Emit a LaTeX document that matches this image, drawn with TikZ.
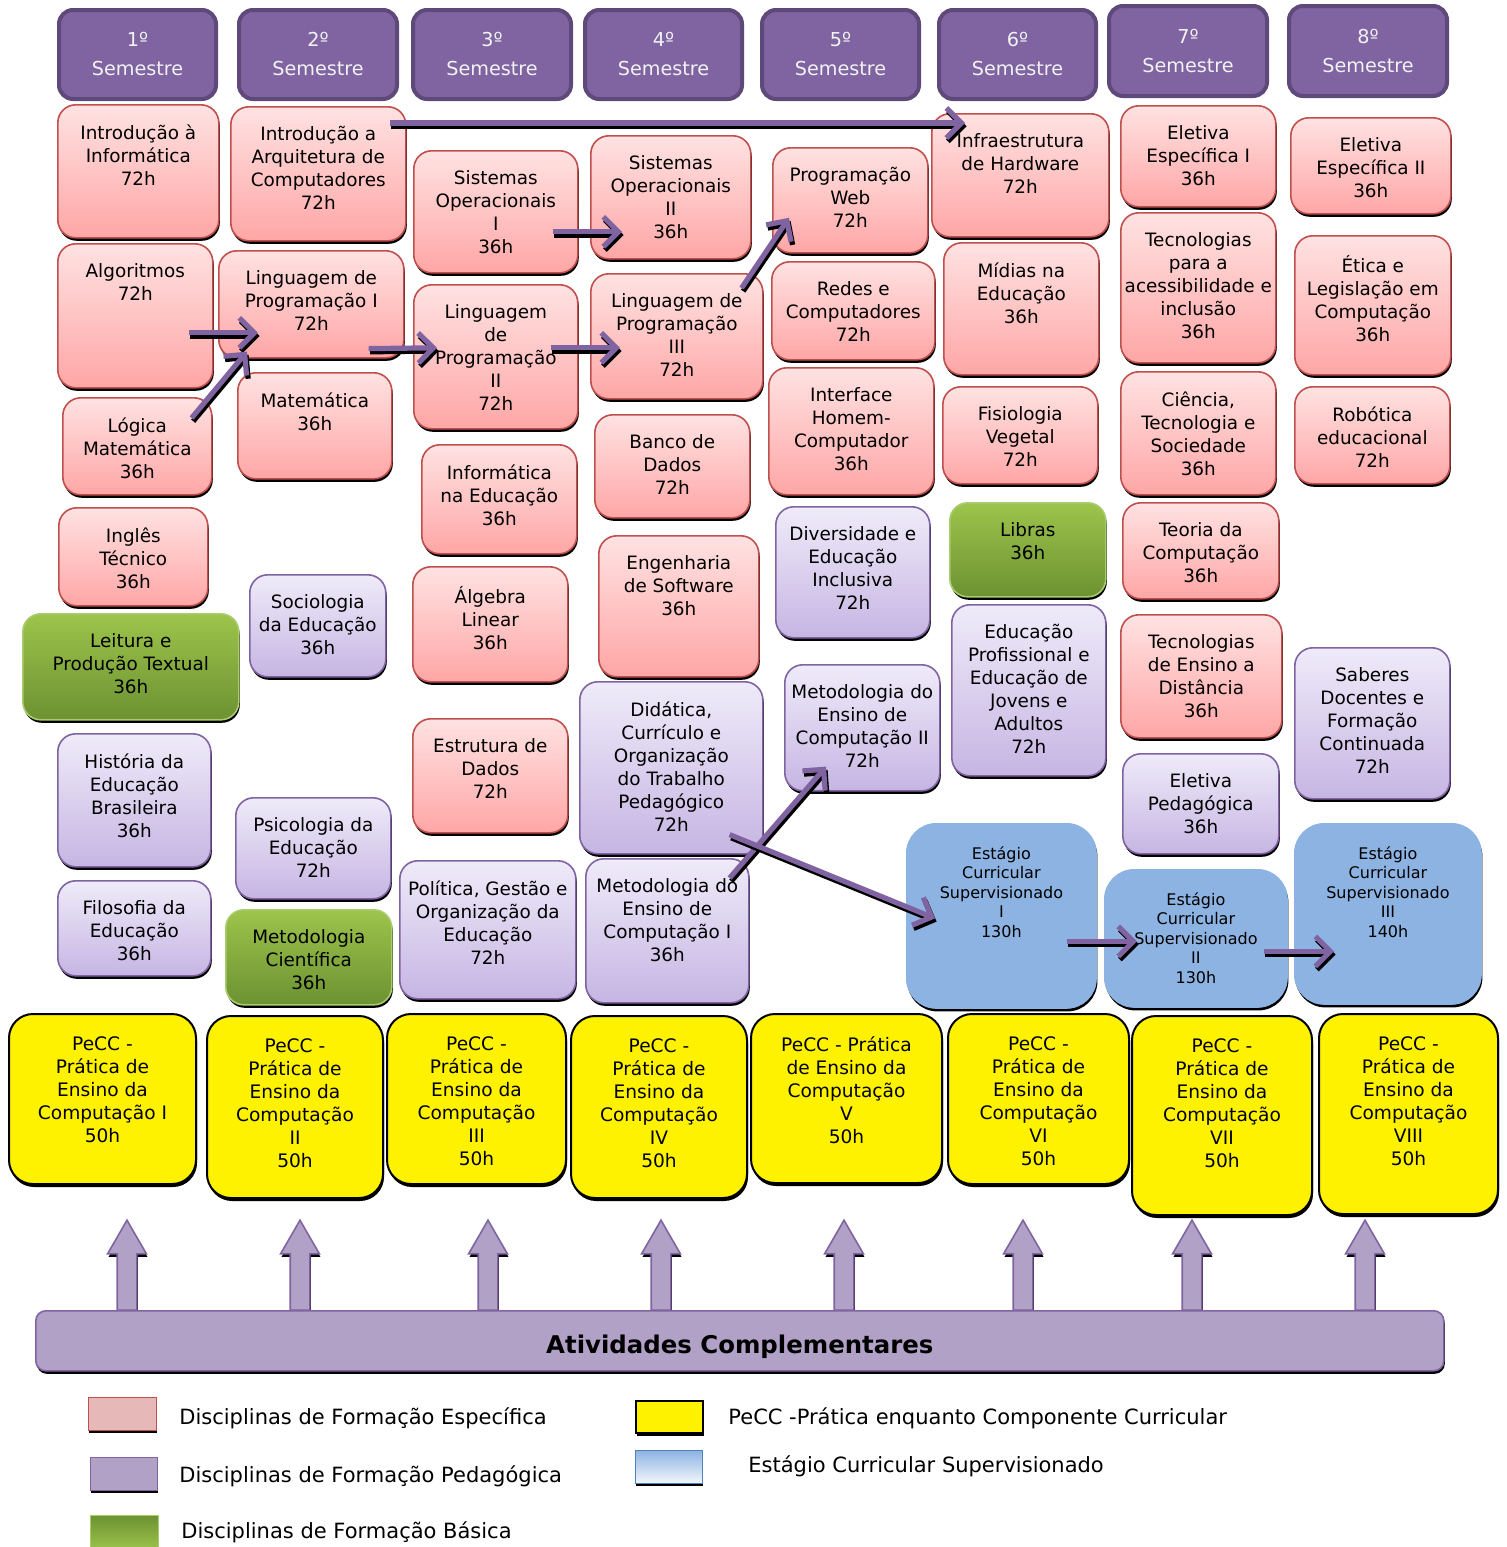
\documentclass[tikz,border=0pt]{standalone}
\usepackage{fontspec}
\setmainfont{DejaVu Sans}
\usepackage{tikz}
\usetikzlibrary{arrows}
\usetikzlibrary{arrows.meta}
\usetikzlibrary{calc}
\usetikzlibrary{shadows}
\usetikzlibrary{shapes.arrows}

\definecolor{semFill}{HTML}{8064A2}
\definecolor{semLine}{HTML}{5F497A}
\definecolor{redTop}{HTML}{FFE2E2}
\definecolor{redBot}{HTML}{FFA6A6}
\definecolor{redLine}{HTML}{C0504D}
\definecolor{lavTop}{HTML}{EFEBF9}
\definecolor{lavBot}{HTML}{C6B5E3}
\definecolor{grnTop}{HTML}{9DC44B}
\definecolor{grnBot}{HTML}{6C9232}
\definecolor{grnLine}{HTML}{A9CC6E}
\definecolor{estFill}{HTML}{8DB3E2}
\definecolor{barFill}{HTML}{B2A1C7}
\definecolor{legRed}{HTML}{E6B9B8}
\definecolor{legBlue}{HTML}{4F81BD}

\tikzset{
	boxshadow/.style={general shadow={fill=black, shadow xshift=0.5pt, shadow yshift=-1.5pt}},
	esp/.style={rounded corners=9pt, top color=redTop, bottom color=redBot, draw=redLine, line width=0.8pt, boxshadow},
	ped/.style={rounded corners=9pt, top color=lavTop, bottom color=lavBot, draw=semFill, line width=0.8pt, boxshadow},
	bas/.style={rounded corners=9pt, top color=grnTop, bottom color=grnBot, draw=grnLine, line width=0.8pt, boxshadow},
	estagio/.style={rounded corners=15pt, fill=estFill, draw=estFill, boxshadow},
	pecc/.style={rounded corners=12pt, fill=yellow, draw=black, line width=1pt, boxshadow},
	semBox/.style={rounded corners=7pt, fill=semFill, draw=semLine, line width=2pt},
	barBox/.style={rounded corners=5pt, fill=barFill, draw=semFill, line width=0.8pt, boxshadow},
	boxtext/.style={font=\fontsize{9.2}{11.5}\selectfont, align=center, inner sep=0pt, yshift=-10pt},
	esttext/.style={font=\fontsize{8}{9.75}\selectfont, align=center, inner sep=0pt, yshift=-11.6pt},
	pecctext/.style={font=\fontsize{9.3}{11.5}\selectfont, align=center, inner sep=0pt, yshift=-11.6pt},
	semtext/.style={font=\fontsize{9.6}{14.5}\selectfont, align=center, text=white!95!black},
	bartext/.style={font=\fontsize{12.2}{14}\selectfont\bfseries, inner sep=0pt, yshift=-3pt},
	legtext/.style={font=\fontsize{10.5}{12}\selectfont, anchor=west, inner sep=0pt},
	link/.style={-{Straight Barb[length=7.5pt, width=15pt]}, line width=2.6pt, draw=semFill},
	upArrow/.style={single arrow, draw=semFill, fill=barFill, line width=0.8pt,
		inner xsep=4.5pt, inner ysep=0pt, minimum height=45pt, single arrow head extend=4.8pt,
		single arrow tip angle=60, shape border rotate=90, anchor=tail, boxshadow}
}

% box with its text at the top
\newcommand{\drawBox}[6][boxtext]{
	\path let
		\p1 = (#3), \p2 = (#4)
		in
		node[#5, minimum width={\x2-\x1}, minimum height={\y1-\y2}, anchor=north west] (#2) at (\p1) {};
	\node[#1, anchor=north] (#2_T) at (#2.north) {#6};
}
% box with its text in the middle
\newcommand{\drawHead}[5]{
	\path let
		\p1 = (#2), \p2 = (#3)
		in
		node[#4, minimum width={\x2-\x1}, minimum height={\y1-\y2}, anchor=north west] (#1) at (\p1) {#5};
}
% thick arrow with a black shadow
\newcommand{\drawLink}[2]{
	\draw[link, draw=black, transform canvas={xshift=0.8pt, yshift=-1.6pt}] (#1) -- (#2);
	\draw[link] (#1) -- (#2);
}

\begin{document}
\begin{tikzpicture}[x=0.5pt, y=-0.5pt]
		\useasboundingbox (0,0) rectangle (1507,1547);

		% semesters
		\drawHead{S1}{57,8}{214,97}{semBox, semtext}{1º\\Semestre}
		\drawHead{S2}{237,8}{395,97}{semBox, semtext}{2º\\Semestre}
		\drawHead{S3}{411,8}{569,97}{semBox, semtext}{3º\\Semestre}
		\drawHead{S4}{583,8}{740,97}{semBox, semtext}{4º\\Semestre}
		\drawHead{S5}{760,8}{917,97}{semBox, semtext}{5º\\Semestre}
		\drawHead{S6}{937,8}{1094,97}{semBox, semtext}{6º\\Semestre}
		\drawHead{S7}{1107,4}{1265,94}{semBox, semtext}{7º\\Semestre}
		\drawHead{S8}{1287,4}{1445,94}{semBox, semtext}{8º\\Semestre}

		% 1st semester
		\drawBox{introInfo}{57,104}{218,237}{esp}{Introdução à\\Informática\\72h}
		\drawBox{algo}{57,243}{212,387}{esp}{Algoritmos\\72h}
		\drawBox{logica}{62,397}{211,494}{esp}{Lógica\\Matemática\\36h}
		\drawBox{ingles}{58,507}{207,605}{esp}{Inglês\\Técnico\\36h}
		\drawBox{leitura}{22,613}{238,719}{bas}{Leitura e\\Produção Textual\\36h}
		\drawBox{historia}{57,733}{210,866}{ped}{História da\\Educação\\Brasileira\\36h}
		\drawBox{filosofia}{57,880}{210,975}{ped}{Filosofia da\\Educação\\36h}

		% 2nd semester
		\drawBox{introArq}{230,106}{405,240}{esp}{Introdução a\\Arquitetura de\\Computadores\\72h}
		\drawBox{lp1}{218,250}{403,357}{esp}{Linguagem de\\Programação I\\72h}
		\drawBox{matematica}{237,372}{391,478}{esp}{Matemática\\36h}
		\drawBox{sociologia}{249,574}{385,676}{ped}{Sociologia\\da Educação\\36h}
		\drawBox{psicologia}{235,797}{390,898}{ped}{Psicologia da\\Educação\\72h}
		\drawBox{metCient}{225,909}{391,1004}{bas}{Metodologia\\Científica\\36h}

		% 3rd semester
		\drawBox{so1}{413,150}{577,272}{esp}{Sistemas\\Operacionais\\I\\36h}
		\drawBox{lp2}{413,284}{577,428}{esp}{Linguagem\\de\\Programação\\II\\72h}
		\drawBox{infoEdu}{421,444}{576,553}{esp}{Informática\\na Educação\\36h}
		\drawBox{algebra}{412,566}{567,681}{esp}{Álgebra\\Linear\\36h}
		\drawBox{estrutura}{412,718}{567,832}{esp}{Estrutura de\\Dados\\72h}
		\drawBox{politica}{399,860}{575,998}{ped}{Política, Gestão e\\Organização da\\Educação\\72h}

		% 4th semester
		\drawBox{so2}{590,135}{750,258}{esp}{Sistemas\\Operacionais\\II\\36h}
		\drawBox{lp3}{590,273}{762,398}{esp}{Linguagem de\\Programação\\III\\72h}
		\drawBox{banco}{594,414}{749,517}{esp}{Banco de\\Dados\\72h}
		\drawBox{engSoft}{598,535}{758,676}{esp}{Engenharia\\de Software\\36h}
		\drawBox{didatica}{579,681}{762,853}{ped}{Didática,\\Currículo e\\Organização\\do Trabalho\\Pedagógico\\72h}
		\drawBox{metEns1}{585,858}{748,1002}{ped}{Metodologia do\\Ensino de\\Computação I\\36h}

		% 5th semester
		\drawBox{web}{772,147}{927,252}{esp}{Programação\\Web\\72h}
		\drawBox{redes}{771,261}{934,359}{esp}{Redes e\\Computadores\\72h}
		\drawBox{ihc}{768,367}{933,494}{esp}{Interface\\Homem-\\Computador\\36h}
		\drawBox{diversidade}{775,506}{929,637}{ped}{Diversidade e\\Educação\\Inclusiva\\72h}
		\drawBox{metEns2}{784,664}{939,790}{ped}{Metodologia do\\Ensino de\\Computação II\\72h}

		% 6th semester
		\drawBox{infra}{931,113}{1108,236}{esp}{Infraestrutura\\de Hardware\\72h}
		\drawBox{midias}{943,242}{1098,374}{esp}{Mídias na\\Educação\\36h}
		\drawBox{fisiologia}{942,386}{1097,483}{esp}{Fisiologia\\Vegetal\\72h}
		\drawBox{libras}{949,502}{1105,596}{bas}{Libras\\36h}
		\drawBox{eja}{951,604}{1105,775}{ped}{Educação\\Profissional e\\Educação de\\Jovens e\\Adultos\\72h}
		\drawBox[esttext]{est1}{906,823}{1096,1008}{estagio}{Estágio\\Curricular\\Supervisionado\\I\\130h}

		% 7th semester
		\drawBox{eletiva1}{1120,105}{1275,206}{esp}{Eletiva\\Específica I\\36h}
		\drawBox{acess}{1120,212}{1275,362}{esp}{Tecnologias\\para a\\acessibilidade e\\inclusão\\36h}
		\drawBox{cts}{1120,371}{1275,494}{esp}{Ciência,\\Tecnologia e\\Sociedade\\36h}
		\drawBox{teoria}{1122,502}{1278,598}{esp}{Teoria da\\Computação\\36h}
		\drawBox{ead}{1120,614}{1281,737}{esp}{Tecnologias\\de Ensino a\\Distância\\36h}
		\drawBox{eletivaPed}{1122,753}{1278,853}{ped}{Eletiva\\Pedagógica\\36h}
		\drawBox[esttext]{est2}{1104,869}{1287,1007}{estagio}{Estágio\\Curricular\\Supervisionado\\II\\130h}

		% 8th semester
		\drawBox{eletiva2}{1290,117}{1450,213}{esp}{Eletiva\\Específica II\\36h}
		\drawBox{etica}{1294,235}{1450,374}{esp}{Ética e\\Legislação em\\Computação\\36h}
		\drawBox{robotica}{1294,386}{1449,483}{esp}{Robótica\\educacional\\72h}
		\drawBox{saberes}{1294,647}{1449,798}{ped}{Saberes\\Docentes e\\Formação\\Continuada\\72h}
		\drawBox[esttext]{est3}{1294,823}{1481,1004}{estagio}{Estágio\\Curricular\\Supervisionado\\III\\140h}

		% PeCC
		\drawBox[pecctext]{pecc1}{8,1013}{195,1183}{pecc}{PeCC -\\Prática de\\Ensino da\\Computação I\\50h}
		\drawBox[pecctext]{pecc2}{206,1015}{382,1197}{pecc}{PeCC -\\Prática de\\Ensino da\\Computação\\II\\50h}
		\drawBox[pecctext]{pecc3}{386,1013}{565,1183}{pecc}{PeCC -\\Prática de\\Ensino da\\Computação\\III\\50h}
		\drawBox[pecctext]{pecc4}{570,1015}{746,1197}{pecc}{PeCC -\\Prática de\\Ensino da\\Computação\\IV\\50h}
		\drawBox[pecctext]{pecc5}{750,1013}{941,1182}{pecc}{PeCC - Prática\\de Ensino da\\Computação\\V\\50h}
		\drawBox[pecctext]{pecc6}{947,1013}{1128,1183}{pecc}{PeCC -\\Prática de\\Ensino da\\Computação\\VI\\50h}
		\drawBox[pecctext]{pecc7}{1131,1015}{1311,1214}{pecc}{PeCC -\\Prática de\\Ensino da\\Computação\\VII\\50h}
		\drawBox[pecctext]{pecc8}{1318,1013}{1497,1213}{pecc}{PeCC -\\Prática de\\Ensino da\\Computação\\VIII\\50h}

		% prerequisites
		\drawLink{[shift={(-17,17)}]introArq.north east}{[shift={(34,10)}]infra.north west}
		\drawLink{[shift={(-25,17)}]algo.east}{[shift={(40,28.5)}]lp1.west}
		\drawLink{[shift={(-21,21)}]logica.north east}{[shift={(29,-7)}]lp1.south west}
		\drawLink{[shift={(-36,-10)}]lp1.south east}{[shift={(24,-9)}]lp2.west}
		\drawLink{[shift={(-26,20)}]so1.east}{[shift={(32,34.5)}]so2.west}
		\drawLink{[shift={(-28,-9)}]lp2.east}{[shift={(30,11.5)}]lp3.west}
		\drawLink{[shift={(-22,15)}]lp3.north east}{[shift={(17,17.5)}]web.west}
		\drawLink{[shift={(-20,20)}]metEns1.north east}{[shift={(42,-25)}]metEns2.south west}
		\drawLink{[shift={(-34,-20)}]didatica.south east}{[shift={(29,2.5)}]est1.west}
		\drawLink{[shift={(-30,25.5)}]est1.east}{[shift={(33,3)}]est2.west}
		\drawLink{[shift={(-24,13)}]est2.east}{[shift={(40,37.5)}]est3.west}

		% complementary activities
		\node[upArrow] (up1) at (127,1311) {};
		\node[upArrow] (up2) at (300,1311) {};
		\node[upArrow] (up3) at (488,1311) {};
		\node[upArrow] (up4) at (661,1311) {};
		\node[upArrow] (up5) at (844,1311) {};
		\node[upArrow] (up6) at (1023,1311) {};
		\node[upArrow] (up7) at (1192,1311) {};
		\node[upArrow] (up8) at (1365,1311) {};
		\drawHead{atividades}{35,1310}{1443,1370}{barBox}{}
		\node[bartext] (atividades_T) at (atividades.center) {Atividades Complementares};

		% legend
		\drawHead{legEsp}{88,1397}{156,1430}{fill=legRed, draw=redLine, boxshadow}{}
		\drawHead{legPed}{90,1457}{157,1490}{fill=barFill, draw=semFill, boxshadow}{}
		\drawHead{legBas}{90,1515}{158,1550}{top color=grnBot, bottom color=grnTop, draw=grnLine}{}
		\drawHead{legPecc}{635,1400}{702,1432}{fill=yellow, draw=black, line width=1pt, boxshadow}{}
		\drawHead{legEst}{635,1450}{702,1483}{top color=estFill, bottom color=estFill!10, draw=legBlue, boxshadow}{}
		\node[legtext] (legEsp_T) at (179,1418) {Disciplinas de Formação Específica};
		\node[legtext] (legPed_T) at (179,1476) {Disciplinas de Formação Pedagógica};
		\node[legtext] (legBas_T) at (181,1532) {Disciplinas de Formação Básica};
		\node[legtext] (legPecc_T) at (728,1418) {PeCC -Prática enquanto Componente Curricular};
		\node[legtext] (legEst_T) at (748,1466) {Estágio Curricular Supervisionado};
	\end{tikzpicture}
\end{document}
